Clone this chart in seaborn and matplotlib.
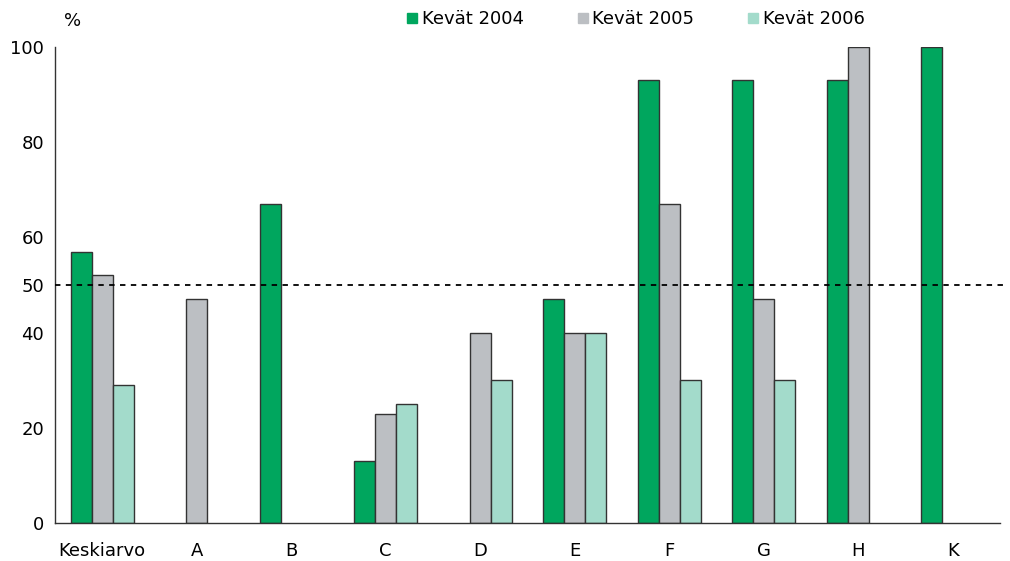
import pandas as pd
import numpy as np
import matplotlib
matplotlib.use("Agg")
import matplotlib.pyplot as plt
import seaborn as sns
from matplotlib.lines import Line2D

# Data (% values), None = no bar
categories = ["Keskiarvo", "A", "B", "C", "D", "E", "F", "G", "H", "K"]
series = ["Kevät 2004", "Kevät 2005", "Kevät 2006"]
kevat_2004 = [57, None, 67, 13, None, 47, 93, 93, 93, 100]
kevat_2005 = [52, 47, None, 23, 40, 40, 67, 47, 100, None]
kevat_2006 = [29, None, None, 25, 30, 40, 30, 30, None, None]
y_ticks = [0, 20, 40, 50, 60, 80, 100]
colors = ["#00A65E", "#BCBFC3", "#A3DBCB"]

rows = []
for name, vals in zip(series, [kevat_2004, kevat_2005, kevat_2006]):
    for cat, v in zip(categories, vals):
        if v is not None:
            rows.append({"category": cat, "series": name, "value": v})
df = pd.DataFrame(rows)

sns.set_style("white")
plt.rcParams["font.family"] = ["DejaVu Sans"]
plt.rcParams["text.color"] = "black"
plt.rcParams["xtick.color"] = "black"
plt.rcParams["ytick.color"] = "black"

fig = plt.figure(figsize=(10.1, 5.61), dpi=100)
ax = fig.add_axes([0.0545, 0.0677, 0.9355, 0.8485])

sns.barplot(data=df, x="category", y="value", hue="series",
            order=categories, hue_order=series, palette=colors,
            width=2 / 3, errorbar=None, edgecolor="#333333",
            linewidth=1.0, saturation=1, ax=ax, legend=False)

ax.set_ylim(0, 100)
ax.set_xlim(-0.5, len(categories) - 0.5)
ax.set_yticks(y_ticks)
ax.set_xticks(np.arange(len(categories)))
ax.set_xticklabels(categories)
ax.set_xticks(np.arange(len(categories) + 1) - 0.5, minor=True)
ax.tick_params(axis="x", which="major", length=0, pad=14, labelsize=13)
ax.tick_params(axis="x", which="minor", length=5, width=1, color="#333333", direction="out")
ax.tick_params(axis="y", length=5, width=1, color="#333333", direction="out", pad=3, labelsize=13)
ax.set_xlabel("")
ax.set_ylabel("")
for s in ["top", "right"]:
    ax.spines[s].set_visible(False)
for s in ["left", "bottom"]:
    ax.spines[s].set_color("#333333")
    ax.spines[s].set_linewidth(1)

ax.axhline(50, xmin=0, xmax=1.006, color="black", linestyle=(0, (3, 3)),
           linewidth=1.3, clip_on=False, zorder=5)

fig.text(0.072, 0.962, "%", fontsize=13, ha="center", va="center")

handles = [Line2D([], [], marker="s", linestyle="", markersize=6.5,
                  markerfacecolor=c, markeredgecolor=c) for c in colors]
fig.legend(handles, series, loc="center", bbox_to_anchor=(0.629, 0.966),
           ncol=3, frameon=False, fontsize=13, handletextpad=0.2,
           columnspacing=2.9, handlelength=0.7)

fig.savefig("out.png", dpi=100)
